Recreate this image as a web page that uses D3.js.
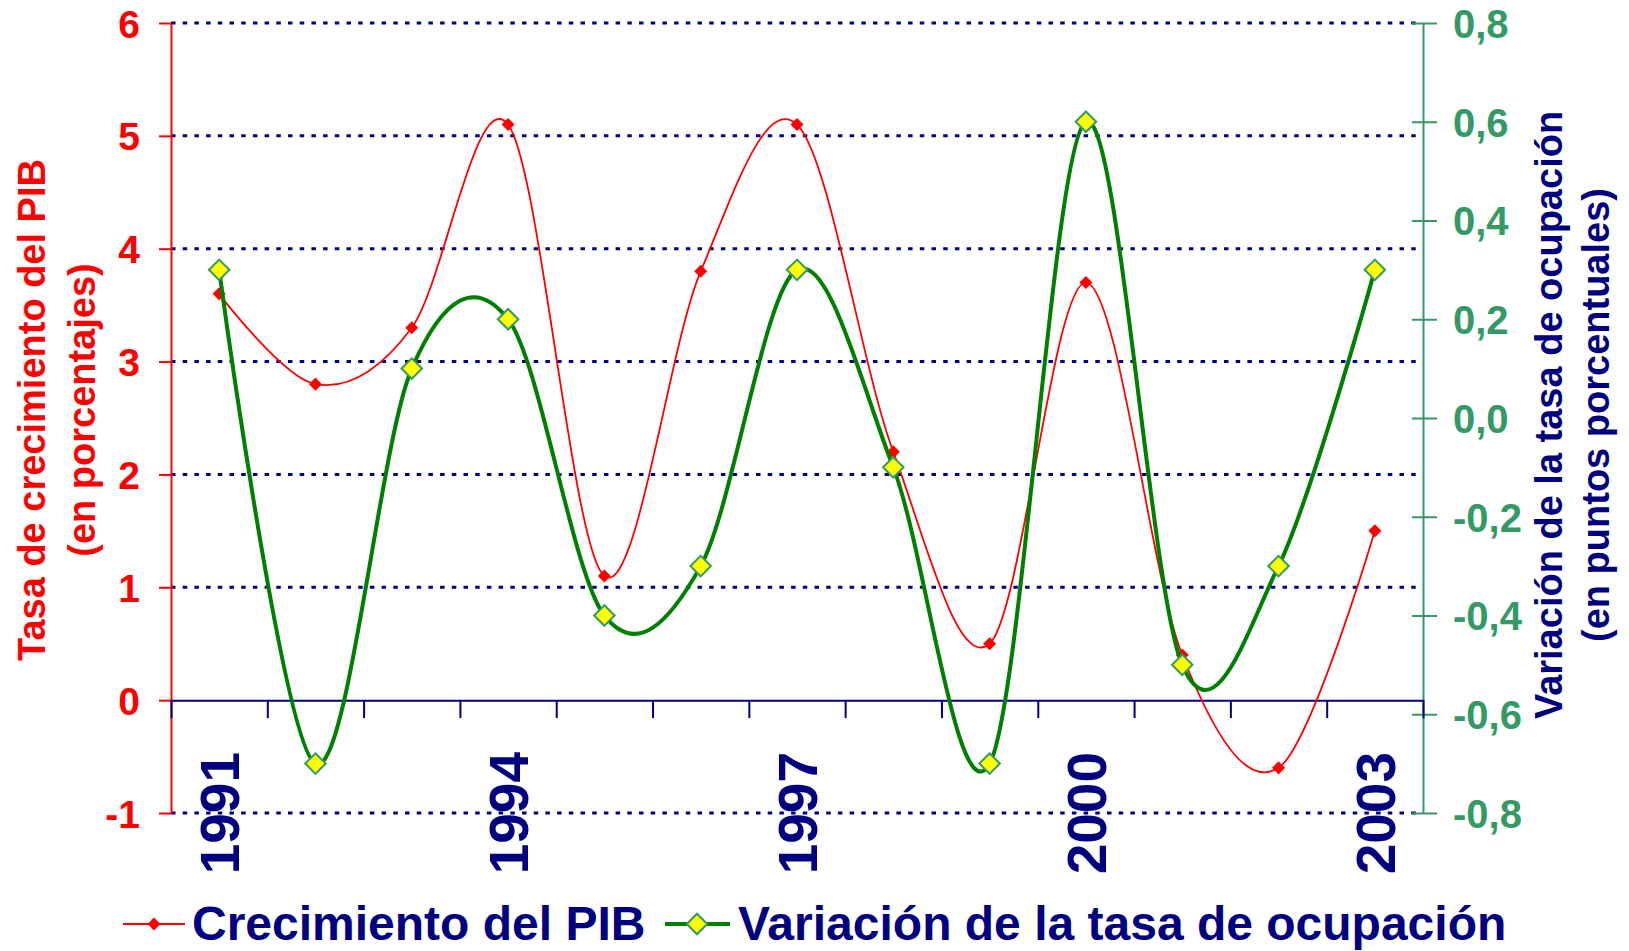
<!DOCTYPE html>
<html>
<head>
<meta charset="utf-8">
<script src="https://d3js.org/d3.v7.min.js"></script>
<style>
body { margin: 0; background: #fff; }
svg text { font-family: Arial, "Liberation Sans", sans-serif; font-weight: bold; }
</style>
</head>
<body>
<svg></svg>
<script>
// data
var years = [1991, 1992, 1993, 1994, 1995, 1996, 1997, 1998, 1999, 2000, 2001, 2002, 2003];
var pibValues = [3.6, 2.8, 3.3, 5.1, 1.1, 3.8, 5.1, 2.2, 0.5, 3.7, 0.4, -0.6, 1.5];
var ocupValues = [0.3, -0.7, 0.1, 0.2, -0.4, -0.3, 0.3, -0.1, -0.7, 0.6, -0.5, -0.3, 0.3];
var leftTicks = [-1, 0, 1, 2, 3, 4, 5, 6];
var rightTicks = [-0.8, -0.6, -0.4, -0.2, 0, 0.2, 0.4, 0.6, 0.8];
var yearLabels = [1991, 1994, 1997, 2000, 2003];
var seriesNames = ["Crecimiento del PIB", "Variación de la tasa de ocupación"];

var width = 1629;
var height = 951;
var plotLeft = 171;
var plotRight = 1423;
var plotTop = 23;
var plotBottom = 813;

var navy = "#000080";
var red = "#ff0000";
var green = "#008000";
var seaGreen = "#339966";

var svg = d3.select("svg")
	.attr("width", width)
	.attr("height", height);

var xScale = d3.scaleBand()
	.domain(years)
	.range([plotLeft, plotRight]);

var xTicks = d3.scaleLinear()
	.domain([0, years.length])
	.range([plotLeft, plotRight]);

var yLeft = d3.scaleLinear()
	.domain([-1, 6])
	.range([plotBottom, plotTop]);

var yRight = d3.scaleLinear()
	.domain([-0.8, 0.8])
	.range([plotBottom, plotTop]);

var cx = d => xScale(d) + xScale.bandwidth() / 2;

// dotted gridlines
svg.append("g")
	.selectAll("line")
	.data(leftTicks.filter(d => d !== 0))
	.enter()
	.append("line")
	.attr("x1", plotLeft)
	.attr("x2", plotRight)
	.attr("y1", d => yLeft(d))
	.attr("y2", d => yLeft(d))
	.attr("stroke", navy)
	.attr("stroke-width", 3)
	.attr("stroke-dasharray", "4.5,7.2");

// left axis
var leftAxis = svg.append("g")
	.attr("transform", `translate(${plotLeft}, 0)`)
	.call(d3.axisLeft(yLeft)
		.tickValues(leftTicks)
		.tickSize(12)
		.tickSizeOuter(0)
		.tickPadding(19)
		.tickFormat(d => String(d)));
leftAxis.select(".domain").attr("stroke", red).attr("stroke-width", 2);
leftAxis.selectAll(".tick line").attr("stroke", red).attr("stroke-width", 2);
leftAxis.selectAll(".tick text")
	.attr("fill", red)
	.style("font-size", "39px")
	.attr("dy", "0.36em");

// right axis
var rightAxis = svg.append("g")
	.attr("transform", `translate(${plotRight}, 0)`)
	.call(d3.axisRight(yRight)
		.tickValues(rightTicks)
		.tickSize(14)
		.tickSizeOuter(0)
		.tickPadding(16)
		.tickFormat(d => d.toFixed(1).replace(".", ",")));
rightAxis.select(".domain").attr("stroke", seaGreen).attr("stroke-width", 2);
rightAxis.selectAll(".tick line")
	.attr("x1", -11)
	.attr("stroke", seaGreen)
	.attr("stroke-width", 2);
rightAxis.selectAll(".tick text")
	.attr("fill", seaGreen)
	.style("font-size", "40px")
	.attr("dy", "0.36em");

// category axis at zero
var xAxis = svg.append("g")
	.attr("transform", `translate(0, ${yLeft(0)})`)
	.call(d3.axisBottom(xTicks)
		.tickValues(d3.range(years.length + 1))
		.tickSize(18)
		.tickSizeOuter(0)
		.tickFormat(""));
xAxis.select(".domain").attr("stroke", navy).attr("stroke-width", 2);
xAxis.selectAll(".tick line").attr("stroke", navy).attr("stroke-width", 2);

svg.append("g")
	.selectAll("text")
	.data(yearLabels)
	.enter()
	.append("text")
	.attr("transform", d => `translate(${cx(d)}, 752) rotate(-90)`)
	.attr("text-anchor", "end")
	.attr("dy", "0.36em")
	.attr("fill", navy)
	.style("font-size", "55px")
	.text(d => d);

// series
var pibLine = d3.line()
	.x((d, i) => cx(years[i]))
	.y(d => yLeft(d))
	.curve(d3.curveCatmullRom.alpha(0));

var ocupLine = d3.line()
	.x((d, i) => cx(years[i]))
	.y(d => yRight(d))
	.curve(d3.curveCatmullRom.alpha(0));

var smallDiamond = d3.symbol().type(d3.symbolSquare).size(85);
var bigDiamond = d3.symbol().type(d3.symbolSquare).size(210);

svg.append("path")
	.datum(pibValues)
	.attr("d", pibLine)
	.attr("fill", "none")
	.attr("stroke", red)
	.attr("stroke-width", 1.8);

svg.append("g")
	.selectAll("path")
	.data(pibValues)
	.enter()
	.append("path")
	.attr("d", smallDiamond)
	.attr("transform", (d, i) => `translate(${cx(years[i])}, ${yLeft(d)}) rotate(45)`)
	.attr("fill", red);

svg.append("path")
	.datum(ocupValues)
	.attr("d", ocupLine)
	.attr("fill", "none")
	.attr("stroke", green)
	.attr("stroke-width", 4);

svg.append("g")
	.selectAll("path")
	.data(ocupValues)
	.enter()
	.append("path")
	.attr("d", bigDiamond)
	.attr("transform", (d, i) => `translate(${cx(years[i])}, ${yRight(d)}) rotate(45)`)
	.attr("fill", "#ffff00")
	.attr("stroke", seaGreen)
	.attr("stroke-width", 2);

// axis titles
svg.append("text")
	.attr("transform", "translate(31, 410) rotate(-90)")
	.attr("text-anchor", "middle")
	.attr("dy", "0.36em")
	.attr("fill", red)
	.style("font-size", "38px")
	.text("Tasa de crecimiento del PIB");

svg.append("text")
	.attr("transform", "translate(81, 410) rotate(-90)")
	.attr("text-anchor", "middle")
	.attr("dy", "0.36em")
	.attr("fill", red)
	.style("font-size", "38px")
	.text("(en porcentajes)");

svg.append("text")
	.attr("transform", "translate(1548, 415) rotate(-90)")
	.attr("text-anchor", "middle")
	.attr("dy", "0.36em")
	.attr("fill", navy)
	.style("font-size", "38px")
	.text("Variación de la tasa de ocupación");

svg.append("text")
	.attr("transform", "translate(1595, 415) rotate(-90)")
	.attr("text-anchor", "middle")
	.attr("dy", "0.36em")
	.attr("fill", navy)
	.style("font-size", "38px")
	.text("(en puntos porcentuales)");

// legend
var legend = svg.append("g");

legend.append("line")
	.attr("x1", 123).attr("x2", 185)
	.attr("y1", 924).attr("y2", 924)
	.attr("stroke", red)
	.attr("stroke-width", 1.8);
legend.append("path")
	.attr("d", smallDiamond)
	.attr("transform", "translate(154, 924) rotate(45)")
	.attr("fill", red);
legend.append("text")
	.attr("x", 192)
	.attr("y", 940)
	.attr("fill", navy)
	.style("font-size", "48px")
	.text(seriesNames[0]);

legend.append("line")
	.attr("x1", 665).attr("x2", 730)
	.attr("y1", 924).attr("y2", 924)
	.attr("stroke", green)
	.attr("stroke-width", 4);
legend.append("path")
	.attr("d", bigDiamond)
	.attr("transform", "translate(697, 924) rotate(45)")
	.attr("fill", "#ffff00")
	.attr("stroke", seaGreen)
	.attr("stroke-width", 2);
legend.append("text")
	.attr("x", 738)
	.attr("y", 940)
	.attr("fill", navy)
	.style("font-size", "48px")
	.text(seriesNames[1]);
</script>
</body>
</html>
